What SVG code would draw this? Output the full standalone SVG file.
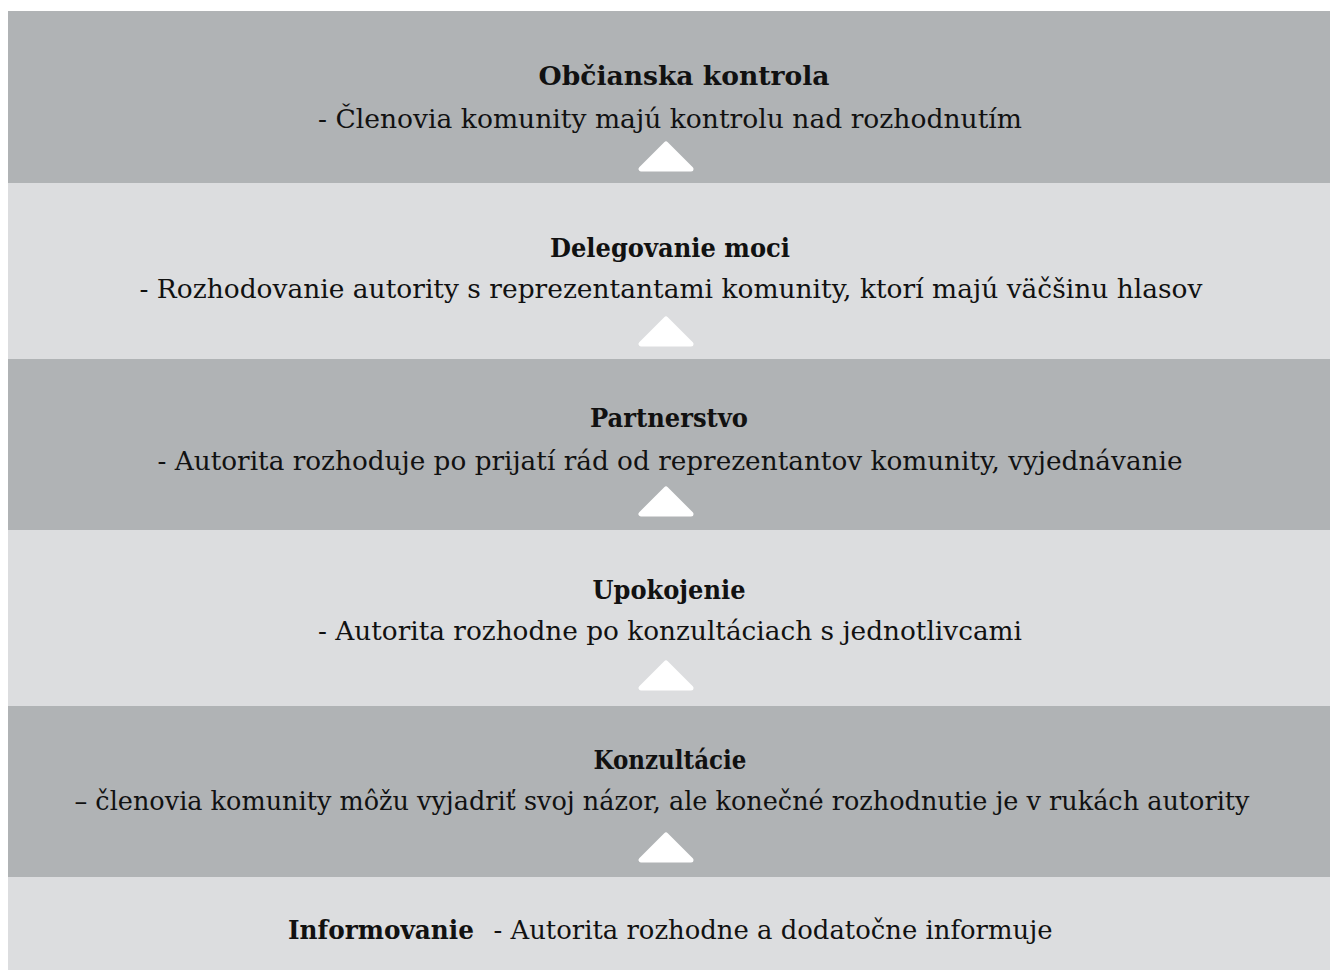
<svg xmlns="http://www.w3.org/2000/svg" width="1330" height="970" viewBox="0 0 1330 970">
  <style>
    .dark { fill: #b0b3b5; }
    .light { fill: #dcdddf; }
    .title { font-family: "DejaVu Serif", "Liberation Serif", serif; font-size: 26px; font-weight: bold; fill: #111; text-anchor: middle; }
    .desc { font-family: "DejaVu Serif", "Liberation Serif", serif; font-size: 26px; fill: #111; text-anchor: middle; }
    .arrow { fill: #ffffff; stroke: #ffffff; stroke-width: 5; stroke-linejoin: round; }
  </style>
  <rect width="1330" height="970" fill="#ffffff"/>

  <!-- ladder rungs, top to bottom -->
  <g id="obcianska-kontrola">
    <rect class="dark" x="8" y="11" width="1322" height="172"/>
    <text class="title" x="684" y="85" textLength="291" lengthAdjust="spacingAndGlyphs">Občianska kontrola</text>
    <text class="desc" x="670" y="128" textLength="704" lengthAdjust="spacingAndGlyphs">- Členovia komunity majú kontrolu nad rozhodnutím</text>
  </g>

  <g id="delegovanie-moci">
    <rect class="light" x="8" y="183" width="1322" height="176"/>
    <text class="title" x="670" y="257" textLength="240" lengthAdjust="spacingAndGlyphs">Delegovanie moci</text>
    <text class="desc" x="671" y="298" textLength="1063" lengthAdjust="spacingAndGlyphs">- Rozhodovanie autority s reprezentantami komunity, ktorí majú väčšinu hlasov</text>
  </g>

  <g id="partnerstvo">
    <rect class="dark" x="8" y="359" width="1322" height="171"/>
    <text class="title" x="669" y="427" textLength="158" lengthAdjust="spacingAndGlyphs">Partnerstvo</text>
    <text class="desc" x="670" y="470" textLength="1025" lengthAdjust="spacingAndGlyphs">- Autorita rozhoduje po prijatí rád od reprezentantov komunity, vyjednávanie</text>
  </g>

  <g id="upokojenie">
    <rect class="light" x="8" y="530" width="1322" height="176"/>
    <text class="title" x="669" y="599" textLength="153" lengthAdjust="spacingAndGlyphs">Upokojenie</text>
    <text class="desc" x="670" y="640" textLength="704" lengthAdjust="spacingAndGlyphs">- Autorita rozhodne po konzultáciach s jednotlivcami</text>
  </g>

  <g id="konzultacie">
    <rect class="dark" x="8" y="706" width="1322" height="171"/>
    <text class="title" x="670" y="769" textLength="153" lengthAdjust="spacingAndGlyphs">Konzultácie</text>
    <text class="desc" x="662" y="810" textLength="1175" lengthAdjust="spacingAndGlyphs">– členovia komunity môžu vyjadriť svoj názor, ale konečné rozhodnutie je v rukách autority</text>
  </g>

  <g id="informovanie">
    <rect class="light" x="8" y="877" width="1322" height="93"/>
    <text class="title" x="381" y="939" textLength="186" lengthAdjust="spacingAndGlyphs">Informovanie</text>
    <text class="desc" x="773" y="939" textLength="559" lengthAdjust="spacingAndGlyphs">- Autorita rozhodne a dodatočne informuje</text>
  </g>

  <!-- upward arrows between rungs -->
  <g id="connectors">
    <polygon class="arrow" points="666,144 641,169 691,169"/>
    <polygon class="arrow" points="666,319 641,344 691,344"/>
    <polygon class="arrow" points="666,489 641,514 691,514"/>
    <polygon class="arrow" points="666,663 641,688 691,688"/>
    <polygon class="arrow" points="666,835 641,860 691,860"/>
  </g>
</svg>
